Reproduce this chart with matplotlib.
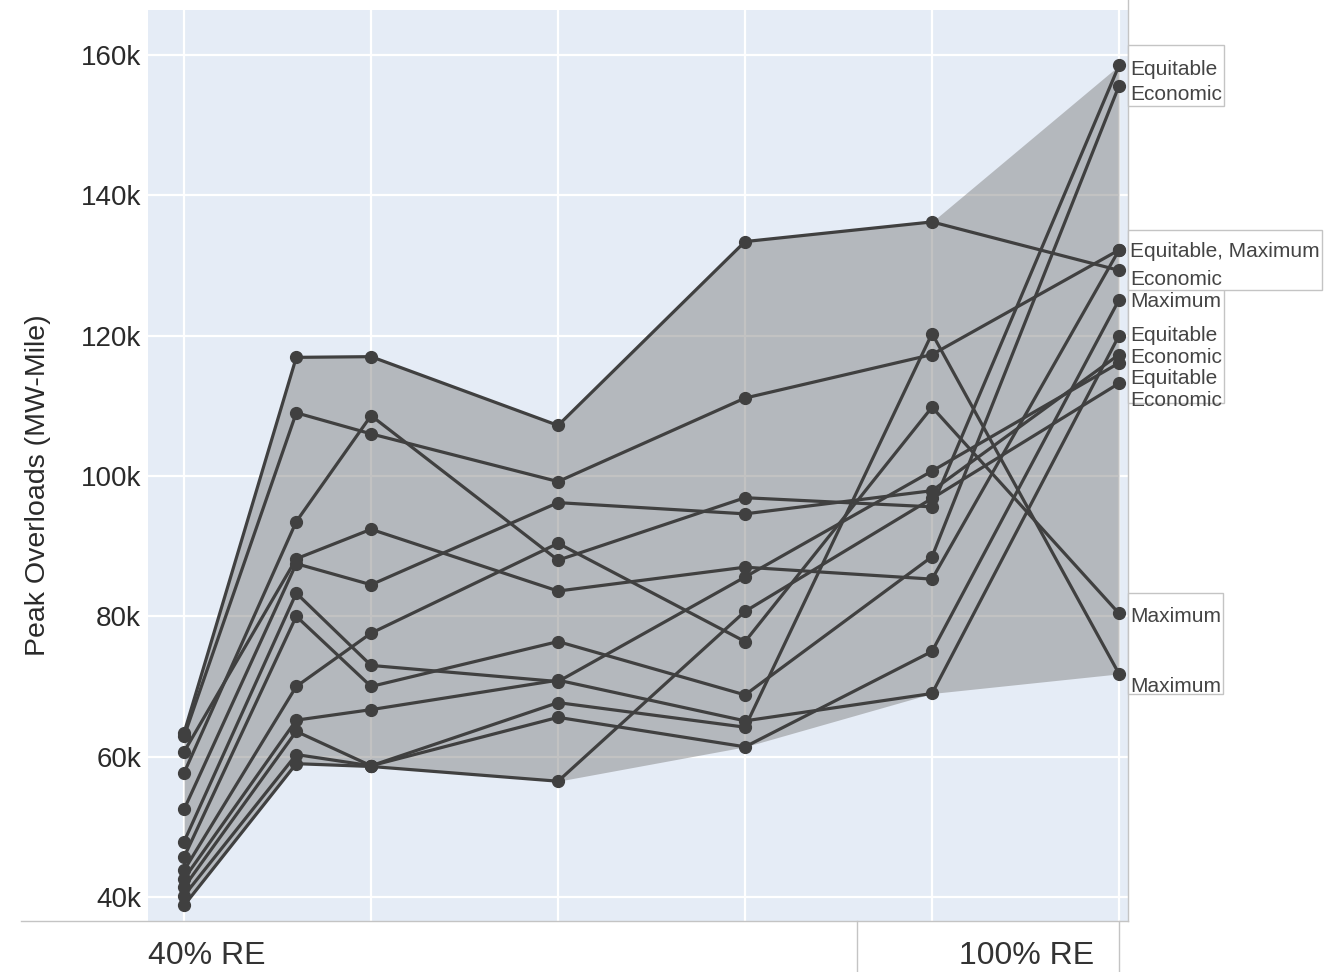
import matplotlib
matplotlib.use("Agg")
import matplotlib.pyplot as plt
import numpy as np
from matplotlib.lines import Line2D
from matplotlib.patches import Rectangle
from matplotlib.ticker import FuncFormatter, MultipleLocator

plt.rcParams["font.family"] = ["Liberation Sans", "DejaVu Sans"]

# ---------------------------------------------------------------------------
# Data: peak overloads (thousand MW-mile) per portfolio along the RE path
# ---------------------------------------------------------------------------

STEPS = [0, 0.6, 1, 2, 3, 4, 5]          # 40% RE ... 100% RE

line_a = [63.4, 116.9, 117.0, 107.2, 133.4, 136.2, 129.3]
line_b = [62.9, 109.0, 106.0, 99.2, 111.1, 117.3, 132.2]
line_c = [57.7, 93.5, 108.6, 88.0, 96.9, 95.6, 158.5]
line_d = [60.7, 88.2, 92.4, 83.6, 87.0, 85.3, 132.2]
line_e = [52.5, 87.5, 84.5, 96.2, 94.6, 97.9, 117.3]
line_f = [47.9, 83.3, 73.0, 70.7, 85.6, 100.7, 116.1]
line_g = [45.7, 80.0, 70.0, 76.4, 68.8, 88.5, 155.6]
line_h = [43.8, 70.0, 77.6, 90.4, 76.4, 109.8, 80.4]
line_i = [42.6, 65.2, 66.7, 70.9, 65.1, 69.0, 120.0]
line_j = [41.4, 63.6, 58.7, 67.7, 64.2, 120.3, 71.8]
line_k = [40.2, 60.3, 58.7, 65.6, 61.4, 75.0, 125.1]
line_l = [38.8, 59.0, 58.6, 56.5, 80.7, 96.8, 113.2]

LINES = [line_a, line_b, line_c, line_d, line_e, line_f,
         line_g, line_h, line_i, line_j, line_k, line_l]
DESIGNS = ["Economic", "Equitable", "Equitable", "Maximum", "Economic", "Equitable",
           "Economic", "Maximum", "Equitable", "Maximum", "Maximum", "Economic"]

# which framed box each end label sits in (top to bottom), and a small
# downward nudge in pixels for each label
LABEL_BOX = [0, 0, 1, 1, 2, 2, 2, 2, 2, 3, 3]
LABEL_NUDGE = [4, 9, 2, 9, 2, 0, 3, 16, 17, 3, 13]

Y_TICKS = [40, 60, 80, 100, 120, 140, 160]
X_LABELS = ["40% RE", "100% RE"]

LINE_COLOR = "#404040"
BG = "#E5ECF6"

# ---------------------------------------------------------------------------
# Figure
# ---------------------------------------------------------------------------

W, H = 1340, 972
fig = plt.figure(figsize=(W / 100, H / 100), dpi=100)
ax = fig.add_axes([148 / W, 1 - 921 / H, 980 / W, 911 / H])
ax.set_facecolor(BG)

vals = np.array(LINES) * 1000
ax.fill_between(STEPS, vals.min(axis=0), vals.max(axis=0),
                color="#808080", alpha=0.48, lw=0, zorder=2)

for ys in vals:
    ax.plot(STEPS, ys, color=LINE_COLOR, lw=2.3, marker="o", ms=8.5,
            solid_joinstyle="round", zorder=3)

ax.set_xlim(-0.193, 5.048)
ax.set_ylim(36580, 166400)
ax.xaxis.set_major_locator(MultipleLocator(1))
ax.set_xticklabels([])
ax.set_yticks([t * 1000 for t in Y_TICKS])
ax.yaxis.set_major_formatter(FuncFormatter(lambda v, _: f"{v / 1000:.0f}k"))
ax.tick_params(length=0, pad=5, labelsize=20, labelcolor="#2a2a2a")
ax.grid(color="white", lw=1.6, zorder=1)
ax.set_axisbelow(True)
for s in ax.spines.values():
    s.set_visible(False)

fig.text(38 / W, 1 - 485 / H, "Peak Overloads (MW-Mile)", rotation=90,
         ha="center", va="center", fontsize=20.5, color="#2a2a2a")

fig.text(148 / W, 1 - 956 / H, X_LABELS[0], ha="left", va="center",
         fontsize=23, color="#333333")
fig.text(1094 / W, 1 - 956 / H, X_LABELS[1], ha="right", va="center",
         fontsize=23, color="#333333")

# table-like rules under the plot
grey = "#c4c4c4"
fig.add_artist(Line2D([21 / W, 1128 / W], [1 - 921 / H] * 2, color=grey, lw=1))
for xp in (857, 1119):
    fig.add_artist(Line2D([xp / W] * 2, [0, 1 - 921 / H], color=grey, lw=1))
fig.add_artist(Line2D([1128 / W] * 2, [1 - 921 / H, 1], color=grey, lw=1))

# ---------------------------------------------------------------------------
# End labels (merge designs that finish on the same value)
# ---------------------------------------------------------------------------

ends = {}
for ys, name in zip(LINES, DESIGNS):
    ends.setdefault(ys[-1], []).append(name)
end_vals = sorted(ends, reverse=True)
end_text = [", ".join(sorted(set(ends[v]))) for v in end_vals]

x_end = STEPS[-1]
node_px = [ax.transData.transform((x_end, v * 1000))[1] for v in end_vals]

x_text = 1130
texts = []
for txt, yp, nudge in zip(end_text, node_px, LABEL_NUDGE):
    t = fig.text(x_text / W, (yp - nudge) / H, txt, ha="left", va="center",
                 fontsize=15, color="#444444", zorder=20)
    texts.append(t)

fig.canvas.draw()
renderer = fig.canvas.get_renderer()
for b in sorted(set(LABEL_BOX)):
    idx = [i for i, g in enumerate(LABEL_BOX) if g == b]
    top = max(node_px[i] for i in idx) + 20
    bot = min(node_px[i] for i in idx) - 20
    right = max(texts[i].get_window_extent(renderer).x1 for i in idx) + 2
    fig.add_artist(Rectangle((1128 / W, bot / H), (right - 1128) / W,
                             (top - bot) / H, transform=fig.transFigure,
                             facecolor="white", edgecolor=grey, lw=1,
                             zorder=10 - b))

fig.savefig("out.png", dpi=100)
